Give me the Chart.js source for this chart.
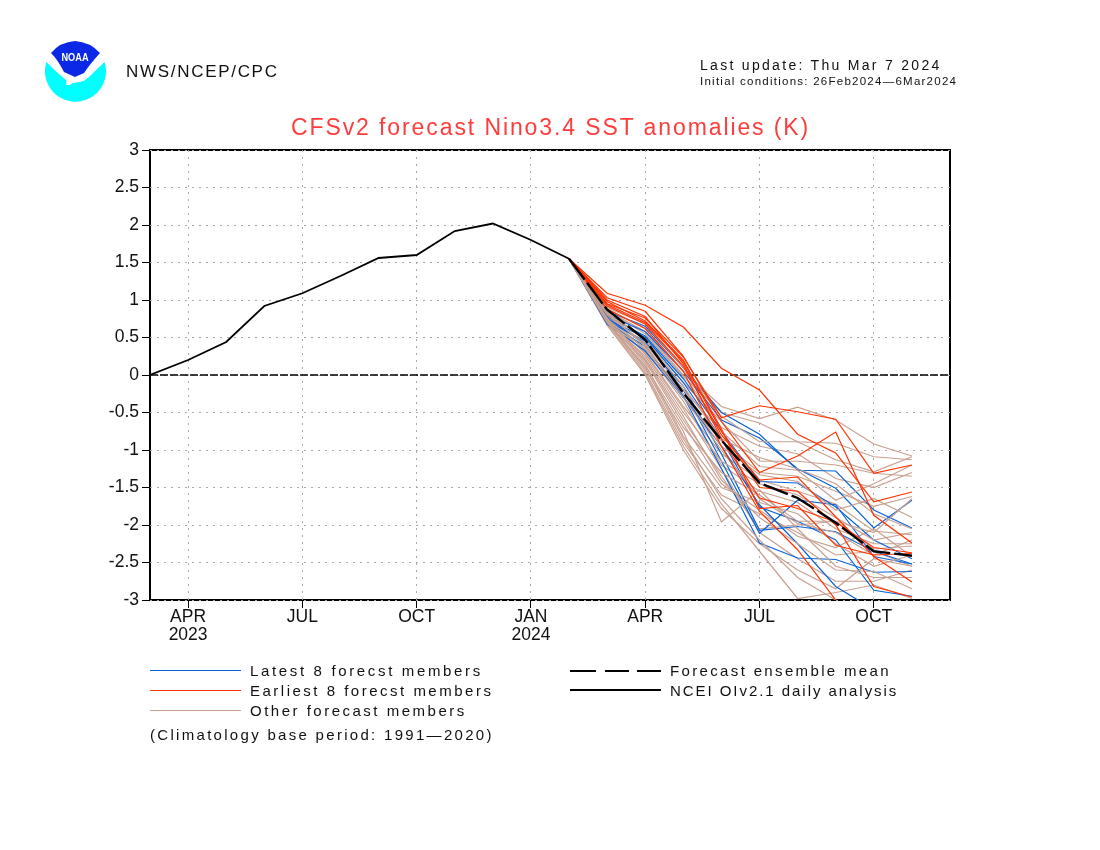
<!DOCTYPE html>
<html>
<head>
<meta charset="utf-8">
<title>CFSv2 forecast Nino3.4 SST anomalies</title>
<script src="https://cdn.jsdelivr.net/npm/chart.js@4"></script>
<style>
  html, body { margin: 0; background: #fff; }
  #wrap { position: relative; width: 1100px; height: 850px; overflow: hidden; font-family: "Liberation Sans", sans-serif; color: #111; }
  #wrap canvas { position: absolute; left: 0; top: 0; }
  .t { position: absolute; white-space: nowrap; line-height: 1; }
  .leg { position: absolute; height: 0; }
</style>
</head>
<body>
<div id="wrap">
  <canvas id="c" width="1100" height="850"></canvas>
  <svg style="position:absolute;left:40px;top:36px" width="72" height="70" viewBox="40 36 72 70">
    <path d="M46.4 62 A30.5 30.5 0 1 0 104.6 62 Q96 70 88 78 L80 82 L67 84 L66 80 Q56 72 46.4 62Z" fill="#00ffff"/>
    <path d="M67 80 L88 77 L84 81 L74 82 L70 85 L66 85Z" fill="#fff"/>
    <path d="M51 53 Q60 42 75 41 Q90 42 100 53 Q90 64 84 73 L75 77 L64 72 Q58 60 51 53Z" fill="#0a28e6"/>
    <text x="75" y="61" text-anchor="middle" font-family="Liberation Sans" font-weight="bold" font-size="11" fill="#fff" textLength="27" lengthAdjust="spacingAndGlyphs">NOAA</text>
  </svg>
  <div class="t" style="left:126px;top:63px;font-size:17px;letter-spacing:1.7px">NWS/NCEP/CPC</div>
  <div class="t" style="left:700px;top:58px;font-size:14px;letter-spacing:2.3px">Last update: Thu Mar 7 2024</div>
  <div class="t" style="left:700px;top:76px;font-size:11.5px;letter-spacing:1.25px">Initial conditions: 26Feb2024&#8212;6Mar2024</div>
  <div class="t" style="left:291px;top:116px;font-size:23px;letter-spacing:1.9px;color:#ff3c3c">CFSv2 forecast Nino3.4 SST anomalies (K)</div>

  <div class="leg" style="left:150px;top:670px;width:91px;border-top:1px solid #0a64d8"></div>
  <div class="t" style="left:250px;top:663px;font-size:15px;letter-spacing:2.65px">Latest 8 forecst members</div>
  <div class="leg" style="left:150px;top:690px;width:91px;border-top:1px solid #ff3200"></div>
  <div class="t" style="left:250px;top:683px;font-size:15px;letter-spacing:2.5px">Earliest 8 forecst members</div>
  <div class="leg" style="left:150px;top:710px;width:91px;border-top:1px solid #c8a090"></div>
  <div class="t" style="left:250px;top:703px;font-size:15px;letter-spacing:2.5px">Other forecast members</div>
  <div class="t" style="left:150px;top:727px;font-size:15px;letter-spacing:2.3px">(Climatology base period: 1991&#8212;2020)</div>

  <div class="leg" style="left:570px;top:670px;width:26px;border-top:2px solid #000"></div>
  <div class="leg" style="left:605px;top:670px;width:24px;border-top:2px solid #000"></div>
  <div class="leg" style="left:637px;top:670px;width:24px;border-top:2px solid #000"></div>
  <div class="t" style="left:670px;top:663px;font-size:15px;letter-spacing:2.35px">Forecast ensemble mean</div>
  <div class="leg" style="left:570px;top:689px;width:91px;border-top:2px solid #000"></div>
  <div class="t" style="left:670px;top:683px;font-size:15px;letter-spacing:1.95px">NCEI OIv2.1 daily analysis</div>
</div>

<script>
// months counted from Mar 2023 = 0
const tickMonths = [1, 4, 7, 10, 13, 16, 19];
const tickLabels = [["APR", "2023"], ["JUL"], ["OCT"], ["JAN", "2024"], ["APR"], ["JUL"], ["OCT"]];
const yTicks = [3, 2.5, 2, 1.5, 1, 0.5, 0, -0.5, -1, -1.5, -2, -2.5, -3];

const analysis = [0, 0.2, 0.44, 0.92, 1.09, 1.32, 1.56, 1.6, 1.92, 2.02, 1.8, 1.55];
const forecastStart = 11;
const ensembleMean = [1.55, 0.87, 0.47, -0.24, -0.87, -1.44, -1.64, -1.97, -2.35, -2.41];

const latestMembers = [
  [1.55, 0.85, 0.65, 0.1, -0.5, -0.79, -1.27, -1.28, -1.8, -2.04],
  [1.55, 0.8, 0.58, 0.05, -0.6, -0.84, -1.25, -1.51, -2.04, -1.67],
  [1.55, 0.78, 0.52, -0.05, -0.75, -1.42, -1.44, -1.76, -2.2, -2.45],
  [1.55, 0.72, 0.45, -0.2, -1.15, -2.11, -1.67, -1.73, -2.42, -2.52],
  [1.55, 0.7, 0.38, -0.28, -1.25, -2.24, -2.44, -2.46, -2.63, -2.62],
  [1.55, 0.76, 0.42, -0.15, -1.05, -2.07, -2.02, -2.09, -2.35, -2.52],
  [1.55, 0.68, 0.32, -0.3, -0.95, -1.73, -2.25, -2.82, -3.13, -3.3],
  [1.55, 0.74, 0.5, -0.1, -0.85, -1.76, -1.95, -2.2, -2.87, -2.95],
];
const earliestMembers = [
  [1.55, 1.09, 0.93, 0.64, 0.09, -0.2, -0.79, -1.04, -1.69, -1.56],
  [1.55, 0.95, 0.76, 0.24, -0.57, -0.41, -0.49, -0.59, -1.31, -1.2],
  [1.55, 1.03, 0.85, 0.25, -0.62, -1.3, -1.08, -0.76, -1.87, -2.24],
  [1.55, 0.98, 0.72, 0.2, -0.72, -1.78, -1.74, -2.27, -2.4, -2.38],
  [1.55, 0.92, 0.68, 0.12, -0.8, -1.4, -1.36, -1.89, -2.42, -2.76],
  [1.55, 1.0, 0.78, 0.15, -0.85, -1.64, -1.78, -1.96, -2.3, -2.37],
  [1.55, 0.88, 0.62, 0.05, -0.95, -1.82, -2.33, -3.0, -3.3, -3.5],
  [1.55, 0.94, 0.7, 0.18, -0.75, -1.5, -1.55, -2.0, -2.82, -2.96],
];
const otherMembers = [
  [1.55, 0.88, 0.62, 0.05, -0.42, -0.58, -0.43, -0.6, -0.92, -1.08],
  [1.55, 0.85, 0.55, -0.02, -0.5, -0.64, -0.89, -0.91, -1.09, -1.13],
  [1.55, 0.9, 0.68, 0.1, -0.55, -0.89, -0.89, -1.13, -1.29, -1.09],
  [1.55, 0.82, 0.5, -0.1, -0.62, -1.15, -1.15, -1.2, -1.31, -1.35],
  [1.55, 0.8, 0.42, -0.2, -0.75, -1.22, -1.27, -1.67, -1.45, -1.2],
  [1.55, 0.78, 0.4, -0.3, -0.88, -1.3, -1.35, -1.55, -1.75, -1.62],
  [1.55, 0.84, 0.38, -0.25, -0.95, -1.33, -1.42, -1.8, -1.65, -1.9],
  [1.55, 0.75, 0.3, -0.42, -1.05, -1.4, -1.55, -1.72, -2.08, -2.13],
  [1.55, 0.72, 0.25, -0.5, -1.15, -1.45, -1.6, -1.9, -2.2, -2.1],
  [1.55, 0.8, 0.33, -0.35, -1.2, -1.55, -1.7, -2.05, -2.25, -2.25],
  [1.55, 0.7, 0.12, -0.7, -1.3, -1.6, -1.95, -1.95, -2.1, -1.65],
  [1.55, 0.68, 0.2, -0.6, -1.35, -2.05, -2.0, -1.95, -2.32, -2.28],
  [1.55, 0.74, 0.15, -0.82, -1.5, -1.7, -1.85, -2.25, -2.55, -2.4],
  [1.55, 0.7, 0.05, -0.9, -1.6, -1.85, -2.1, -2.4, -2.35, -2.55],
  [1.55, 0.72, 0.08, -0.75, -1.96, -1.53, -2.05, -2.55, -2.7, -2.7],
  [1.55, 0.66, 0, -1.0, -1.78, -2.25, -2.6, -2.85, -2.45, -2.55],
  [1.55, 0.76, 0.22, -0.55, -1.4, -1.9, -2.25, -2.6, -2.62, -2.85],
  [1.55, 0.78, 0.28, -0.45, -1.25, -2.1, -2.45, -2.75, -2.75, -2.6],
  [1.55, 0.7, 0.1, -0.85, -1.65, -2.2, -2.7, -3.0, -3.15, -3.2],
  [1.55, 0.68, 0.02, -0.95, -1.72, -2.35, -2.98, -2.9, -2.8, -2.98],
  [1.55, 0.82, 0.48, -0.15, -0.85, -1.1, -1.25, -1.45, -1.85, -2.05],
  [1.55, 0.86, 0.58, 0, -0.7, -0.95, -1.05, -1.38, -1.5, -1.3],
  [1.55, 0.74, 0.35, -0.3, -1.0, -1.65, -1.98, -2.1, -2.4, -2.2],
  [1.55, 0.77, 0.18, -0.65, -1.45, -1.8, -2.15, -2.3, -2.05, -2.42],
];

const xMax = 21;
const toPoints = (vals, start) => vals.map((y, i) => ({ x: start + i, y }));

const line = (data, color, width, order, dash) => ({
  data,
  borderColor: color,
  borderWidth: width,
  borderDash: dash || [],
  order,
  pointRadius: 0,
  tension: 0,
  fill: false,
});

const datasets = [];
// blue sits between the brown members: half of them under, half over
otherMembers.forEach((m, i) => datasets.push(line(toPoints(m, forecastStart), "#c8a090", 1.2, i % 2 ? 6 : 4)));
latestMembers.forEach((m) => datasets.push(line(toPoints(m, forecastStart), "#0a64d8", 1.2, 5)));
earliestMembers.forEach((m) => datasets.push(line(toPoints(m, forecastStart), "#ff3200", 1.2, 3)));
datasets.push(line(toPoints(ensembleMean, forecastStart), "#000", 2.4, 2, [26, 4]));
datasets.push(line(toPoints(analysis, 0), "#000", 1.8, 1));
datasets.push(line([{ x: 0, y: 0 }, { x: xMax, y: 0 }], "#000", 1.4, 7, [8, 2]));

// frame goes under the grid, the reference has grid dots over it
const frame = {
  id: "frame",
  beforeDraw(chart) {
    const { ctx, chartArea: a } = chart;
    ctx.save();
    ctx.strokeStyle = "#000";
    ctx.lineWidth = 2;
    ctx.strokeRect(a.left, a.top, a.right - a.left, a.bottom - a.top);
    ctx.restore();
  },
};

const gridOpts = {
  color: "#aaa",
  lineWidth: 1,
  tickColor: "#000",
  tickLength: 8,
  tickWidth: 1,
};

new Chart(document.getElementById("c"), {
  type: "line",
  data: { datasets },
  plugins: [frame],
  options: {
    responsive: false,
    animation: false,
    devicePixelRatio: 1,
    layout: { padding: { top: 150, right: 150, left: 0, bottom: 0 } },
    plugins: { legend: { display: false }, tooltip: { enabled: false }, title: { display: false } },
    scales: {
      x: {
        type: "linear",
        min: 0,
        max: xMax,
        afterFit: (s) => { s.height = 250; },
        afterBuildTicks: (s) => { s.ticks = tickMonths.map((value) => ({ value })); },
        grid: gridOpts,
        border: { display: false, dash: [2, 5] },
        ticks: {
          autoSkip: false,
          maxRotation: 0,
          padding: 0,
          color: "#111",
          font: { family: "Liberation Sans", size: 17.5, lineHeight: 1.05 },
          callback: (v) => tickLabels[tickMonths.indexOf(v)],
        },
      },
      y: {
        min: -3,
        max: 3,
        afterFit: (s) => { s.width = 150; },
        afterBuildTicks: (s) => { s.ticks = yTicks.map((value) => ({ value })); },
        grid: gridOpts,
        border: { display: false, dash: [2, 5] },
        ticks: {
          autoSkip: false,
          padding: 3,
          color: "#111",
          font: { family: "Liberation Sans", size: 17.5 },
          callback: (v) => String(v),
        },
      },
    },
  },
});
</script>
</body>
</html>
